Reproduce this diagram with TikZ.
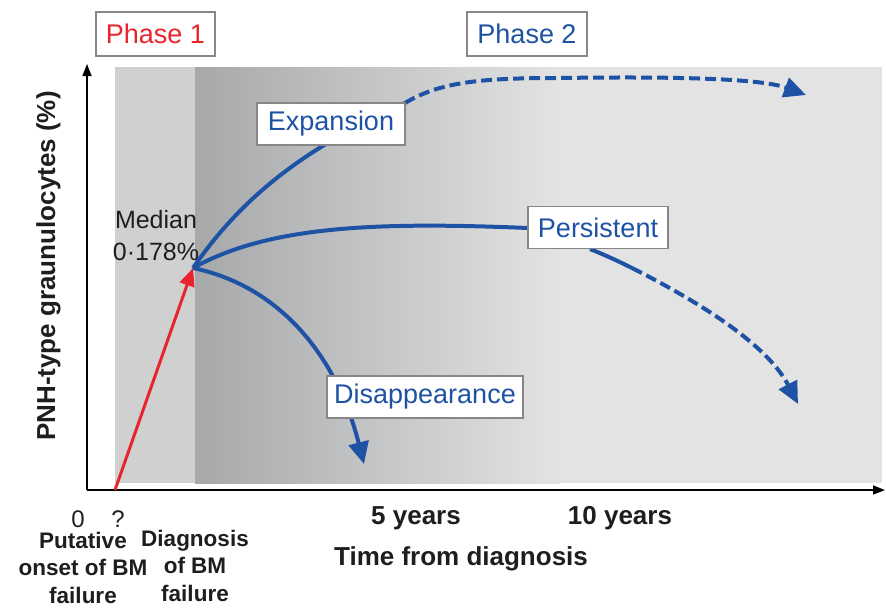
\documentclass[tikz,border=0pt]{standalone}
\usepackage{fontspec}
\setmainfont{Liberation Sans}
\usetikzlibrary{arrows.meta}
\definecolor{pblue}{RGB}{30,82,165}
\definecolor{pred}{RGB}{232,36,46}
\definecolor{bgL}{RGB}{208,208,208}
\definecolor{bgD}{RGB}{166,168,170}
\definecolor{bgR}{RGB}{227,227,227}
\definecolor{boxgray}{RGB}{135,135,135}
\definecolor{txt}{RGB}{30,30,30}
\begin{document}
\begin{tikzpicture}[x=1pt,y=-1pt,
  lbl/.style={draw=boxgray, fill=white, line width=1.5pt, inner xsep=7pt, inner ysep=0pt,
    minimum height=42pt, font=\fontsize{27}{30}\selectfont, text=pblue},
  curve/.style={draw=pblue, line width=4pt},
  dcurve/.style={curve, dash pattern=on 11pt off 5pt},
  tipb/.style={-{Triangle[length=22pt,width=20pt]}},
  axis/.style={line width=1.6pt, draw=black, -{Triangle[length=12pt,width=9pt]}},
  tick/.style={font=\fontsize{24}{28}\selectfont, text=txt, anchor=base},
  btick/.style={font=\bfseries\fontsize{26}{30}\selectfont, text=txt, anchor=base},
  small/.style={font=\bfseries\fontsize{22.5}{27.5}\selectfont, text=txt, anchor=base, align=center}
]
\useasboundingbox (0,0) rectangle (886,608);
% background
\fill[bgL] (115,67) rectangle (195,483);
\shade[left color=bgD, right color=bgR] (195,67) rectangle (560,483);
\fill[bgR] (560,67) rectangle (882,483);

% coordinates
\coordinate (xo) at (87,490);
\coordinate (ytip) at (87,64);
\coordinate (xtip) at (885,490);
\coordinate (R0) at (115,490);
\coordinate (O) at (193,268);
\coordinate (E1) at (405,103);
\coordinate (E2) at (806,95);
\coordinate (P1) at (528,228);
\coordinate (P2) at (590,249);
\coordinate (P3) at (632,268);
\coordinate (P4) at (798,404);
\coordinate (D1) at (364,464);

% axes
\draw[axis] (xo) -- (ytip);
\draw[axis] (xo) -- (xtip);

% red arrow
\draw[draw=pred, line width=3pt, -{Triangle[length=18pt,width=15pt]}] (R0) -- (O);

% curves
\draw[curve] (O) .. controls (240,200) and (300,150) .. (E1);
\draw[dcurve, tipb] (E1) .. controls (440,82) and (480,78) .. (560,78)
   .. controls (700,76) and (765,80) .. (E2);
\draw[curve] (O) .. controls (270,225) and (380,222) .. (P1);
\draw[curve] (P2) .. controls (605,255) and (618,261) .. (P3);
\draw[dcurve, tipb] (P3) .. controls (715,310) and (770,350) .. (P4);
\draw[curve, tipb] (O) .. controls (275,285) and (335,350) .. (D1);

% labels in boxes
\node[lbl, text=pred, minimum width=119pt, minimum height=44pt] (ph1) at (155.5,34) {Phase 1};
\node[lbl, minimum width=120pt, minimum height=44pt] (ph2) at (527,34) {Phase 2};
\node[lbl, minimum width=148pt] (exp) at (331,124) {Expansion};
\node[lbl, minimum width=140pt] (per) at (598,227.5) {Persistent};
\node[lbl, minimum width=186pt] (dis) at (425,397) {Disappearance};

% median
\node[font=\fontsize{25}{32}\selectfont, text=txt, align=center, anchor=base] (med) at (156,260) {Median\\0·178\%};

% axis label
\node[rotate=90, anchor=base, font=\bfseries\fontsize{26}{30}\selectfont, text=txt] (ylab) at (55,266) {PNH-type graunulocytes (\%)};

% ticks
\node[tick] (t0) at (78,527) {0};
\node[tick] (tq) at (118,527) {?};
\node[btick] (t5) at (416,524) {5 years};
\node[btick] (t10) at (620,524) {10 years};
\node[btick] (tlab) at (461,565) {Time from diagnosis};
\node[small] (put) at (83,603) {Putative\\onset of BM\\failure};
\node[small] (dia) at (195,601) {Diagnosis\\of BM\\failure};
\end{tikzpicture}
\end{document}
